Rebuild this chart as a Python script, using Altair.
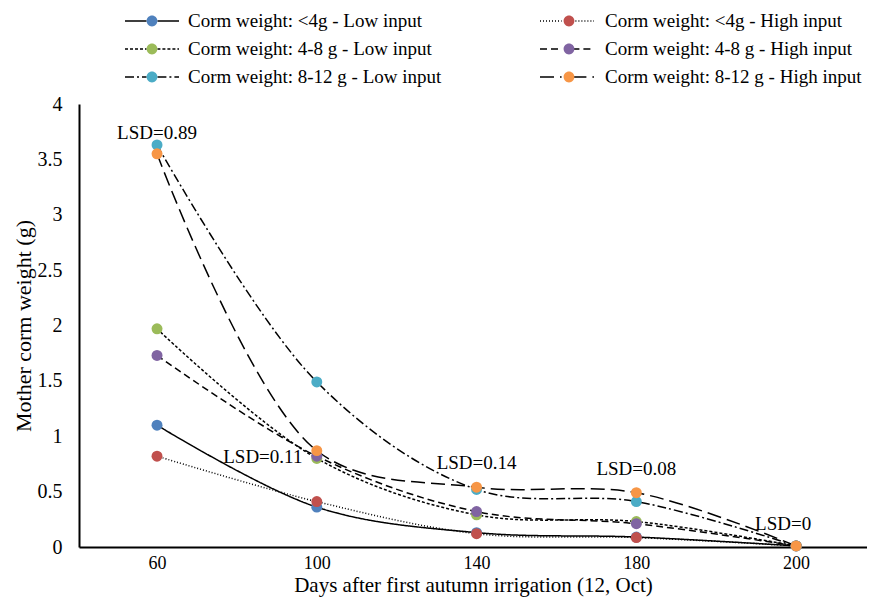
import altair as alt
import pandas as pd

days = [60, 100, 140, 180, 200]
# legend order: column-major (left column = low input, right column = high input)
series_names = [
    "Corm weight: <4g - Low input",
    "Corm weight: 4-8 g - Low input",
    "Corm weight: 8-12 g - Low input",
    "Corm weight: <4g - High input",
    "Corm weight: 4-8 g - High input",
    "Corm weight: 8-12 g - High input",
]
draw_order = [0, 2, 4, 1, 3, 5]
low_lt4 = [1.10, 0.36, 0.13, 0.09, 0.01]
low_4_8 = [1.97, 0.80, 0.29, 0.23, 0.01]
low_8_12 = [3.63, 1.49, 0.52, 0.41, 0.01]
high_lt4 = [0.82, 0.41, 0.12, 0.085, 0.01]
high_4_8 = [1.73, 0.82, 0.32, 0.21, 0.01]
high_8_12 = [3.55, 0.87, 0.54, 0.49, 0.01]
values = [low_lt4, low_4_8, low_8_12, high_lt4, high_4_8, high_8_12]

colors = ["#4F81BD", "#9BBB59", "#4BACC6", "#C0504D", "#8064A2", "#F79646"]
dashes = [[1, 0], [3, 2], [9, 3, 2, 3], [1, 2], [7, 4], [14, 6]]

lsd_days = [60, 100, 140, 180, 200]
lsd_text = ["LSD=0.89", "LSD=0.11", "LSD=0.14", "LSD=0.08", "LSD=0"]
lsd_y = [3.74, 0.81, 0.76, 0.70, 0.21]
lsd_dx = [0, -54, 0, 0, -13]

rows = []
for name, vals, o in zip(series_names, values, draw_order):
    for d, v in zip(days, vals):
        rows.append({"day": d, "value": v, "series": name, "series_l": name, "order": o})
df = pd.DataFrame(rows)

lsd_df = pd.DataFrame({"day": lsd_days, "text": lsd_text, "y": lsd_y, "dx": lsd_dx})

FONT = "Liberation Serif"
x_scale = alt.Scale(type="point", domain=days, padding=0.466, align=0.524)
y_scale = alt.Scale(domain=[0, 4])

line_path = "M-3,0 L-0.6,0 M0.6,0 L3,0 M0,-0.6 L0,-0.6 M0,0.6 L0,0.6"
circle_path = "M0.6,0 A0.6,0.6 0 1 1 -0.6,0 A0.6,0.6 0 1 1 0.6,0 Z M-3,0 L-3,0 M3,0 L3,0"

common_legend = dict(
    orient="none", legendX=63, legendY=-93, columns=2,
    rowPadding=8, labelFont=FONT, labelFontSize=19, labelColor="black",
    labelOffset=26, title=None, symbolSize=324, padding=0, labelLimit=400,
    symbolStrokeWidth=1.5,
)

x_enc = alt.X("day:O", scale=x_scale, sort=days,
              axis=alt.Axis(title="Days after first autumn irrigation (12, Oct)", labelAngle=0,
                            labelFontSize=18, labelPadding=7, titlePadding=2, titleFontSize=21))
y_enc = alt.Y("value:Q", scale=y_scale,
              axis=alt.Axis(title="Mother corm weight (g)", format=".1~f",
                            values=[0, 0.5, 1, 1.5, 2, 2.5, 3, 3.5, 4]))

lines = alt.Chart(df).mark_line(interpolate="catmull-rom", stroke="black", strokeWidth=1.5).encode(
    x=x_enc,
    y=y_enc,
    strokeDash=alt.StrokeDash(
        "series_l:N",
        scale=alt.Scale(domain=series_names, range=dashes),
        sort=series_names,
        legend=alt.Legend(symbolType=line_path, symbolStrokeColor="black", labelExpr="''",
                          columnPadding=349, symbolFillColor="transparent", **common_legend),
    ),
)

points = alt.Chart(df).mark_point(filled=True, size=120, opacity=1).encode(
    x=alt.X("day:O", scale=x_scale, sort=days),
    y=alt.Y("value:Q", scale=y_scale),
    color=alt.Color(
        "series:N",
        scale=alt.Scale(domain=series_names, range=colors),
        sort=series_names,
        legend=alt.Legend(symbolType=circle_path, symbolStrokeColor="transparent", columnPadding=97,
                          symbolOpacity=1, **common_legend),
    ),
    order=alt.Order("order:Q"),
)

labels = alt.Chart(lsd_df).mark_text(font=FONT, fontSize=19, color="black").encode(
    x=alt.X("day:O", scale=x_scale, sort=days),
    y=alt.Y("y:Q", scale=y_scale),
    text="text:N",
    xOffset=alt.XOffset("dx:Q", scale=None),
)

chart = alt.layer(lines, points, labels).resolve_legend(strokeDash="independent", color="independent").properties(
    width=788, height=443,
    autosize=alt.AutoSizeParams(type="none"),
    padding={"left": 71, "top": 96, "right": 0, "bottom": 53},
).configure_view(stroke=None).configure_axis(
    labelFont=FONT, labelFontSize=20, labelColor="black",
    titleFont=FONT, titleFontSize=22, titleColor="black", titleFontWeight="normal",
    domainColor="black", domainWidth=2, ticks=False, grid=False,
).configure_axisY(labelPadding=17, titlePadding=2)

chart.save("out.html", embed_options={"renderer": "svg", "actions": False})
